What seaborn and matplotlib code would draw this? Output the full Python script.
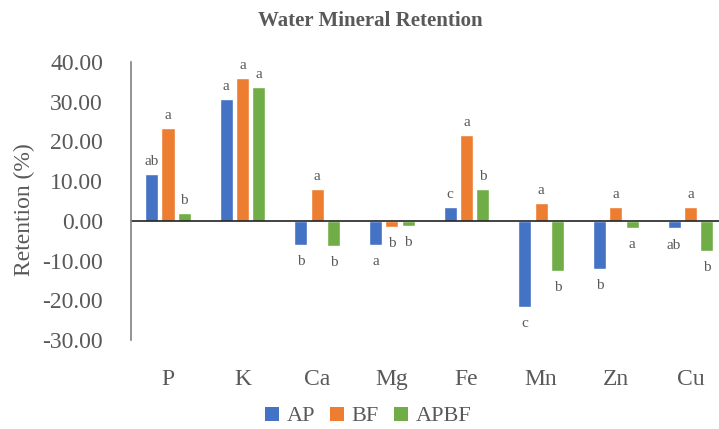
import matplotlib
matplotlib.use("Agg")
import matplotlib.pyplot as plt
from matplotlib.lines import Line2D
import numpy as np
import pandas as pd
import seaborn as sns

# Data
minerals = ["P", "K", "Ca", "Mg", "Fe", "Mn", "Zn", "Cu"]
treatments = ["AP", "BF", "APBF"]
ap = [11.9, 30.8, -6.1, -6.1, 3.6, -21.7, -12.2, -1.9]
bf = [23.5, 35.9, 7.9, -1.5, 21.6, 4.4, 3.4, 3.5]
apbf = [1.9, 33.7, -6.3, -1.3, 8.1, -12.6, -1.8, -7.6]
letters_ap = ["ab", "a", "b", "a", "c", "c", "b", "ab"]
letters_bf = ["a", "a", "a", "b", "a", "a", "a", "a"]
letters_apbf = ["b", "a", "b", "b", "b", "b", "a", "b"]
yticks = [40, 30, 20, 10, 0, -10, -20, -30]

df = pd.DataFrame({
    "mineral": minerals * 3,
    "treatment": [t for t in treatments for _ in minerals],
    "value": ap + bf + apbf,
    "letter": letters_ap + letters_bf + letters_apbf,
})

sns.set_style("white")
plt.rcParams["font.family"] = ["Liberation Serif", "DejaVu Serif"]
grey = "#595959"

fig = plt.figure(figsize=(7.19, 4.29), dpi=100)
ax = fig.add_axes([130.7 / 719, 1 - 340 / 429, 597 / 719, 278 / 429])

palette = {"AP": "#4472C4", "BF": "#ED7D31", "APBF": "#70AD47"}
sns.barplot(data=df, x="mineral", y="value", hue="treatment", order=minerals,
            hue_order=treatments, palette=palette, width=0.655, gap=0.2,
            ax=ax, legend=False, saturation=1)

# significance letters
for cont, t in zip(ax.containers, treatments):
    sub = df[df.treatment == t].set_index("mineral").loc[minerals]
    for rect, val, let in zip(cont, sub["value"], sub["letter"]):
        x = rect.get_x() + rect.get_width() / 2
        off = 9 if val >= 0 else -12
        ax.annotate(let, (x, val), xytext=(0, off), textcoords="offset points",
                    ha="center", va="center", fontsize=11, color=grey)

ax.set_ylim(-30, 40)
ax.set_xlim(-0.5, len(minerals) - 0.5)
ax.set_yticks(yticks)
ax.set_yticklabels([f"{v:.2f}" for v in yticks])
ax.tick_params(axis="y", length=0, pad=20, labelsize=17, labelcolor=grey)
ax.tick_params(axis="x", length=0, pad=21, labelsize=17, labelcolor=grey)
ax.set_xlabel("")
ax.set_ylabel("Retention (%)", fontsize=17, color=grey)
ax.yaxis.set_label_coords(-96 / 597, 0.47)

for s in ["top", "right", "bottom"]:
    ax.spines[s].set_visible(False)
ax.spines["left"].set_color("#808080")
ax.spines["left"].set_linewidth(1.2)
ax.axhline(0, color="#222222", linewidth=1.2)

fig.text(370 / 719, 1 - 21 / 429, "Water Mineral Retention", ha="center",
         va="center", fontsize=15, fontweight="bold", color=grey)

handles = [Line2D([], [], linestyle="none", marker="s", markersize=10,
                  markerfacecolor=palette[t], markeredgewidth=0) for t in treatments]
fig.legend(handles, treatments, loc="center", bbox_to_anchor=(368 / 719, 1 - 416 / 429),
           ncol=3, frameon=False, fontsize=16, handlelength=0.7, borderpad=0.2,
           handletextpad=0.3, columnspacing=0.65, labelcolor=grey)

fig.savefig("out.png", dpi=100)
